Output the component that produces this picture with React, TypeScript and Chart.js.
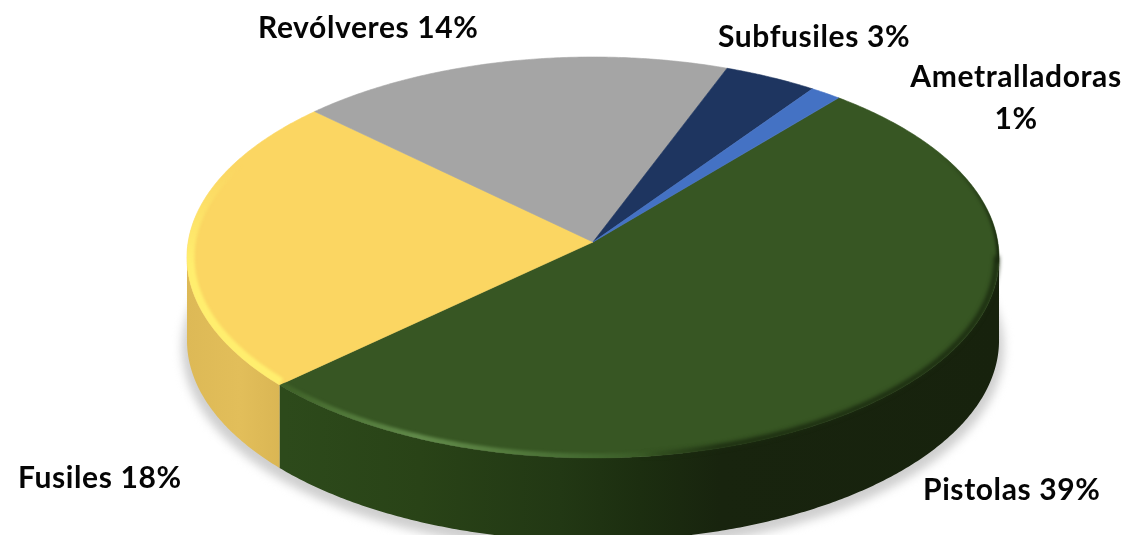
import React, { useEffect, useRef } from "react";
import { Chart, registerables } from "chart.js";

Chart.register(...registerables);

const categories = ["Pistolas", "Fusiles", "Revólveres", "Subfusiles", "Ametralladoras"];
const seriesValues = [39, 18, 14, 3, 1];
const faceColors = ["#375623", "#FBD662", "#A5A5A5", "#1E3560", "#4472C4"];

const WIDTH = 1130;
const HEIGHT = 535;
const FONT = "bold 30px Lato, Carlito, 'Open Sans', sans-serif";

// tilted-disc projection: canvas angle -> screen point
const view = { cx: 593, apexY: 242, a: 404.8, b: 199.3, k: 0.0773, depth: 83 };
const project = (ang: number, dy = 0, r = 1) => {
  const u = r * Math.cos(ang);
  const v = r * Math.sin(ang);
  const w = 1 - view.k * v;
  return { x: view.cx + (view.a * u) / w, y: view.apexY + (view.b * v) / w + dy };
};
const STEP = Math.PI / 360;
const rimPoints = (a0: number, a1: number, dy = 0, r = 1) => {
  const pts: { x: number; y: number }[] = [];
  const n = Math.max(1, Math.ceil(Math.abs(a1 - a0) / STEP));
  for (let i = 0; i <= n; i++) pts.push(project(a0 + ((a1 - a0) * i) / n, dy, r));
  return pts;
};
const deg = (d: number) => (d * Math.PI) / 180;

const labelLayout = [
  { lines: (c: string, p: string) => [`${c} ${p}`], x: 923, y: 500, align: "left" },
  { lines: (c: string, p: string) => [`${c} ${p}`], x: 18, y: 488, align: "left" },
  { lines: (c: string, p: string) => [`${c} ${p}`], x: 258, y: 38, align: "left" },
  { lines: (c: string, p: string) => [`${c} ${p}`], x: 718, y: 47, align: "left" },
  { lines: (c: string, p: string) => [c, p], x: 1016, y: 87, align: "center" },
];

const tracePath = (ctx: CanvasRenderingContext2D, pts: { x: number; y: number }[], move = true) => {
  pts.forEach((p, i) => (i === 0 && move ? ctx.moveTo(p.x, p.y) : ctx.lineTo(p.x, p.y)));
};

const gradX = (ctx: CanvasRenderingContext2D, stops: [number, string][]) => {
  const g = ctx.createLinearGradient(187, 0, 1000, 0);
  stops.forEach(([x, c]) => g.addColorStop((x - 187) / 813, c));
  return g;
};

const pie3d = {
  id: "pie3d",
  beforeDatasetDraw(chart: any) {
    const ctx: CanvasRenderingContext2D = chart.ctx;
    const arcs = chart.getDatasetMeta(0).data;

    // soft floor shadow
    ctx.save();
    ctx.filter = "blur(5px)";
    ctx.fillStyle = "#cfcfcf";
    ctx.beginPath();
    tracePath(ctx, rimPoints(0, Math.PI * 2, view.depth + 7, 1.012));
    ctx.closePath();
    ctx.fill();
    ctx.restore();

    const sideFills = [
      gradX(ctx, [
        [285, "#2D4A1B"],
        [420, "#294317"],
        [560, "#223814"],
        [640, "#1C2E10"],
        [720, "#18240E"],
        [1000, "#17220D"],
      ]),
      gradX(ctx, [
        [187, "#DDB956"],
        [240, "#E2BE5A"],
        [285, "#D9B553"],
      ]),
      "#8A8A8A",
      "#162848",
      "#335696",
    ];

    // extruded wall: only the part between the two silhouette angles faces the viewer
    const wallFrom = Math.asin(view.k);
    const wallTo = Math.PI - wallFrom;
    arcs.forEach((arc: any, i: number) => {
      for (const turn of [-2, 0, 2]) {
        const a0 = Math.max(arc.startAngle + turn * Math.PI, wallFrom);
        const a1 = Math.min(arc.endAngle + turn * Math.PI, wallTo);
        if (a1 <= a0) continue;
        ctx.beginPath();
        tracePath(ctx, rimPoints(a0, a1));
        tracePath(ctx, rimPoints(a1, a0, view.depth), false);
        ctx.closePath();
        ctx.fillStyle = sideFills[i];
        ctx.fill();
      }
    });

    // top face
    const wedge = (arc: any) => {
      ctx.beginPath();
      ctx.moveTo(view.cx, view.apexY);
      tracePath(ctx, rimPoints(arc.startAngle, arc.endAngle), false);
      ctx.closePath();
    };
    arcs.forEach((arc: any) => {
      wedge(arc);
      ctx.fillStyle = arc.options.backgroundColor;
      ctx.fill();
      ctx.strokeStyle = arc.options.backgroundColor;
      ctx.lineWidth = 0.6;
      ctx.stroke();
    });

    // rounded rim light on the two slices that face the viewer
    const rim = (arc: any, a0: number, a1: number, style: any, width: number) => {
      ctx.save();
      wedge(arc);
      ctx.clip();
      ctx.filter = "blur(1.6px)";
      ctx.strokeStyle = style;
      ctx.lineWidth = width;
      ctx.beginPath();
      tracePath(ctx, rimPoints(a0, a1));
      ctx.stroke();
      ctx.restore();
    };
    const yellowLight = ctx.createLinearGradient(0, 165, 0, 265);
    yellowLight.addColorStop(0, "rgba(255,238,110,0)");
    yellowLight.addColorStop(1, "#FFEE6E");
    rim(arcs[1], arcs[1].startAngle, arcs[1].endAngle, yellowLight, 15);
    rim(
      arcs[0],
      deg(60),
      arcs[0].endAngle,
      gradX(ctx, [
        [285, "#3F6128"],
        [340, "#4F7638"],
        [420, "#618A4A"],
        [500, "#557C3E"],
        [590, "#436930"],
        [660, "#375623"],
        [760, "#375623"],
      ]),
      9
    );
    // dark edge fading out towards the back of the disc
    const upperShade = ctx.createLinearGradient(0, 150, 0, 250);
    upperShade.addColorStop(0, "rgba(26,42,15,0)");
    upperShade.addColorStop(1, "#1A2A0F");
    rim(arcs[0], deg(-32), deg(6), upperShade, 5);

    // dark soft edge on the shaded side, kept just inside the rim
    const shade = gradX(ctx, [
      [640, "rgba(26,42,15,0)"],
      [720, "#1A2A0F"],
      [1000, "#1A2A0F"],
    ]);
    ctx.save();
    ctx.filter = "blur(2px)";
    ctx.strokeStyle = shade;
    ctx.lineWidth = 5;
    ctx.beginPath();
    tracePath(ctx, rimPoints(deg(4), deg(90), 0, 0.994));
    ctx.stroke();
    ctx.restore();
    return false;
  },
  afterDatasetsDraw(chart: any) {
    const ctx: CanvasRenderingContext2D = chart.ctx;
    const values = chart.data.datasets[0].data;
    ctx.save();
    ctx.font = FONT;
    (ctx as any).letterSpacing = "0.6px";
    ctx.filter = "blur(0.4px)";
    ctx.fillStyle = "#050505";
    ctx.textBaseline = "alphabetic";
    chart.data.labels.forEach((label: string, i: number) => {
      const spot = labelLayout[i];
      ctx.textAlign = spot.align as CanvasTextAlign;
      spot.lines(label, `${values[i]}%`).forEach((line: string, n: number) => {
        ctx.fillText(line, spot.x, spot.y + n * 42);
      });
    });
    ctx.restore();
  },
};

export default function App() {
  const ref = useRef<HTMLCanvasElement>(null);
  useEffect(() => {
    const chart = new Chart(ref.current as HTMLCanvasElement, {
      type: "pie",
      data: {
        labels: categories,
        datasets: [{ data: seriesValues, backgroundColor: faceColors, borderWidth: 0 }],
      },
      options: {
        animation: false,
        responsive: false,
        rotation: 40,
        plugins: { legend: { display: false }, tooltip: { enabled: false } },
      },
      plugins: [pie3d as any],
    });
    return () => chart.destroy();
  }, []);
  return (
    <div style={{ position: "fixed", left: 0, top: 0, width: WIDTH, height: HEIGHT, background: "#fff", overflow: "hidden" }}>
      <canvas ref={ref} width={WIDTH} height={HEIGHT} style={{ display: "block" }} />
    </div>
  );
}
